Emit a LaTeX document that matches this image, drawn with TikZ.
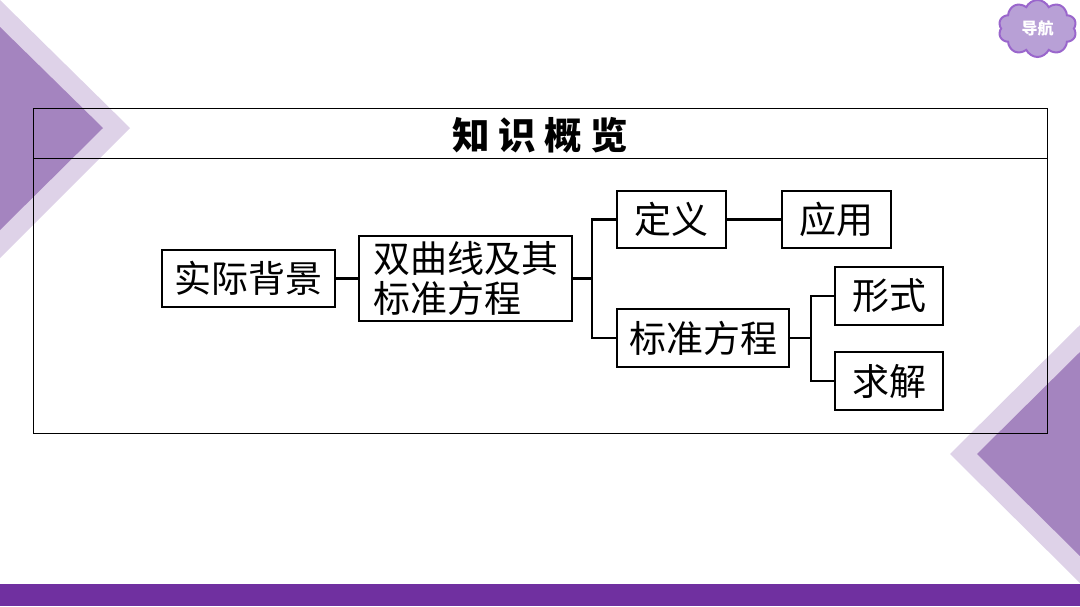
\documentclass[tikz,border=0pt]{standalone}
\usepackage{fontspec}
\newfontfamily\cjk{Noto Sans CJK SC}
\usepackage{tikz}
\usetikzlibrary{shapes.symbols}
\definecolor{barpurple}{HTML}{7030A0}
\definecolor{darktri}{HTML}{A484BF}
\definecolor{lighttri}{HTML}{DED2E8}
\definecolor{cloudfill}{HTML}{B8A0D6}
\definecolor{cloudline}{HTML}{9A66CC}
\tikzset{
  box/.style={draw,line width=2.5pt,inner sep=0pt,align=left,font=\cjk\fontsize{37}{40}\selectfont},
  conn/.style={line width=2.5pt},
}
\begin{document}
\begin{tikzpicture}[x=1pt,y=-1pt]
\useasboundingbox (0,0) rectangle (1080,606);
\fill[lighttri] (0,0)--(130,128)--(0,258)--cycle;
\fill[darktri] (0,27)--(103,128)--(0,230)--cycle;
\fill[lighttri] (1080,325)--(950,454)--(1080,583)--cycle;
\fill[darktri] (1080,352)--(977,454)--(1080,556)--cycle;
\fill[barpurple] (0,584) rectangle (1080,606);
\node[cloud,cloud puffs=10,cloud puff arc=130,aspect=1.4,draw=cloudline,fill=cloudfill,line width=2pt,
  minimum width=78pt,minimum height=57pt,inner sep=0pt,text=white,font=\cjk\bfseries\fontsize{16}{18}\selectfont] (nav) at (1037.5,28.5) {导航};
\draw[line width=1pt] (33.7,108) rectangle (1047,433);
\draw[line width=1pt] (33.7,158)--(1047,158);
\node[font=\cjk\bfseries\fontsize{37.5}{40}\selectfont] (title) at (540,135) {知 识 概 览};
\node[box,minimum width=173pt,minimum height=57pt] (bg) at (248.5,278.5) {实际背景};
\node[box,minimum width=213pt,minimum height=85pt] (hyp) at (465.5,278.5) {双曲线及其\\标准方程};
\node[box,minimum width=109pt,minimum height=57pt] (defn) at (671.5,219.5) {定义};
\node[box,minimum width=109pt,minimum height=57pt] (app) at (836.5,219.5) {应用};
\node[box,minimum width=172pt,minimum height=58pt] (eqn) at (703,338) {标准方程};
\node[box,minimum width=108pt,minimum height=58pt] (form) at (889,296) {形式};
\node[box,minimum width=108pt,minimum height=58pt] (solve) at (889,381) {求解};
\coordinate (jmain) at (592,278.5);
\coordinate (jeqn) at (811,338);
\draw[conn] (bg)--(hyp);
\draw[conn] (hyp)--(jmain);
\draw[conn] (defn.west)-|(jmain)|-(eqn.west);
\draw[conn] (defn)--(app);
\draw[conn] (eqn)--(jeqn);
\draw[conn] (form.west)-|(jeqn)|-(solve.west);
\end{tikzpicture}
\end{document}
